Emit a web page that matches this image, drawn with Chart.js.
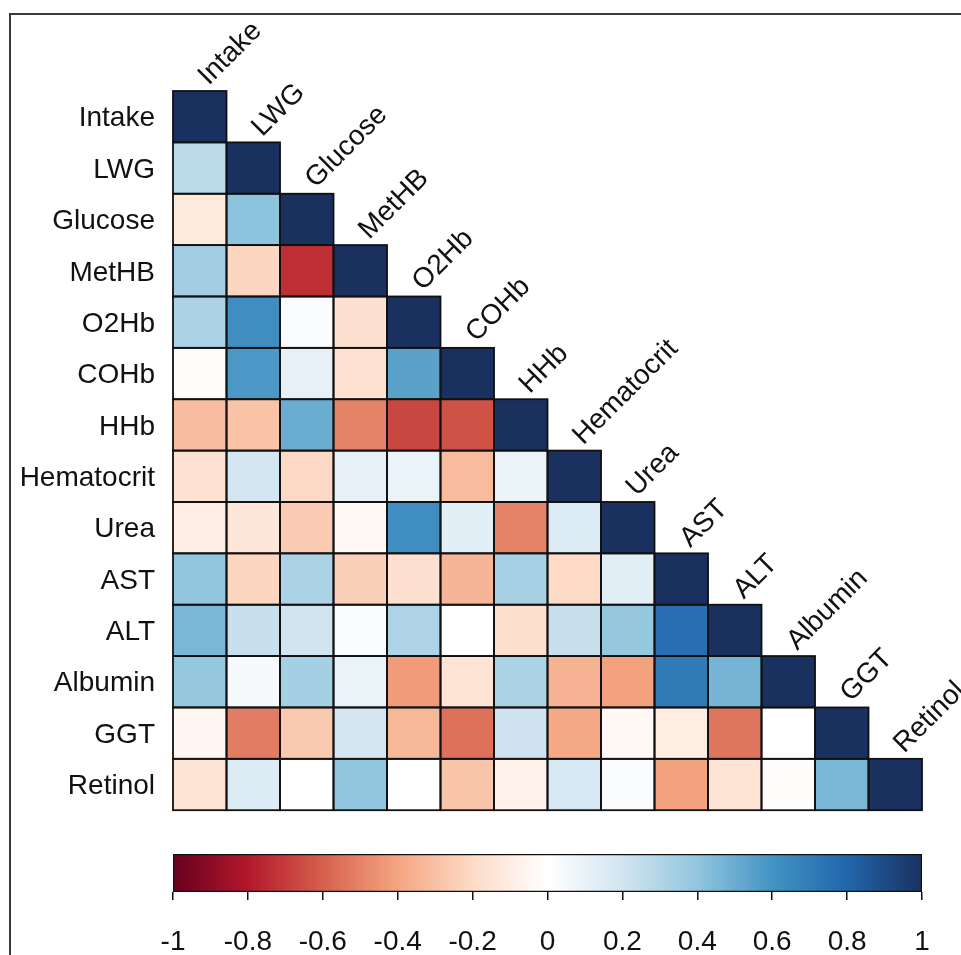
<!DOCTYPE html>
<html>
<head>
<meta charset="utf-8">
<script src="https://cdn.jsdelivr.net/npm/chart.js@4/dist/chart.umd.min.js"></script>
<style>
  html, body { margin: 0; padding: 0; background: #fff; }
  body { width: 961px; height: 955px; position: relative; overflow: hidden; }
  #frame { position: absolute; left: 9px; top: 13px; width: 1000px; height: 1000px;
           border-top: 2px solid #3a3a3a; border-left: 2px solid #3a3a3a; }
  #heat { position: absolute; left: 0; top: 0; }
  #bar  { position: absolute; left: 0; top: 845px; }
</style>
</head>
<body>
<div id="frame"></div>
<canvas id="heat" width="961" height="845"></canvas>
<canvas id="bar" width="961" height="110"></canvas>
<script>
// Variables of the correlation matrix (row and column order)
const variables = ['Intake', 'LWG', 'Glucose', 'MetHB', 'O2Hb', 'COHb', 'HHb',
                   'Hematocrit', 'Urea', 'AST', 'ALT', 'Albumin', 'GGT', 'Retinol'];

// Lower triangle of the correlation matrix, one row per variable
const rIntake     = [1];
const rLWG        = [0.27, 1];
const rGlucose    = [-0.12, 0.41, 1];
const rMetHB      = [0.35, -0.22, -0.74, 1];
const rO2Hb       = [0.32, 0.62, 0.02, -0.17, 1];
const rCOHb       = [-0.01, 0.58, 0.11, -0.16, 0.54, 1];
const rHHb        = [-0.31, -0.29, 0.50, -0.50, -0.67, -0.64, 1];
const rHematocrit = [-0.16, 0.19, -0.21, 0.11, 0.09, -0.32, 0.09, 1];
const rUrea       = [-0.09, -0.14, -0.26, -0.04, 0.62, 0.12, -0.50, 0.15, 1];
const rAST        = [0.40, -0.22, 0.32, -0.24, -0.17, -0.34, 0.33, -0.20, 0.13, 1];
const rALT        = [0.46, 0.23, 0.20, 0.02, 0.31, 0.00, -0.18, 0.23, 0.39, 0.76, 1];
const rAlbumin    = [0.39, 0.04, 0.34, 0.09, -0.43, -0.15, 0.32, -0.35, -0.41, 0.71, 0.47, 1];
const rGGT        = [-0.05, -0.52, -0.27, 0.19, -0.33, -0.55, 0.21, -0.39, -0.04, -0.10, -0.54, 0.00, 1];
const rRetinol    = [-0.15, 0.15, 0.00, 0.40, 0.00, -0.28, -0.07, 0.18, 0.02, -0.41, -0.15, -0.01, 0.46, 1];

const corrRows = [rIntake, rLWG, rGlucose, rMetHB, rO2Hb, rCOHb, rHHb,
                  rHematocrit, rUrea, rAST, rALT, rAlbumin, rGGT, rRetinol];

// Colour legend ticks
const legendTicks = [-1, -0.8, -0.6, -0.4, -0.2, 0, 0.2, 0.4, 0.6, 0.8, 1];

// Diverging red-white-blue palette, evenly spaced from -1 to 1
const paletteStops = ['#67001F', '#B2182B', '#D6604D', '#F4A582', '#FDDBC7', '#FFFFFF',
                      '#D1E5F0', '#92C5DE', '#4393C3', '#2166AC', '#1A3160'];

const FONT = '"Liberation Sans", Arial, Helvetica, sans-serif';
const FONT_SIZE = 28;
const INK = '#111';

function hexToRgb(h) {
  const n = parseInt(h.slice(1), 16);
  return [(n >> 16) & 255, (n >> 8) & 255, n & 255];
}
const paletteRgb = paletteStops.map(hexToRgb);

function colourFor(v) {
  const last = paletteRgb.length - 1;
  const p = (Math.max(-1, Math.min(1, v)) + 1) / 2 * last;
  const i = Math.min(Math.floor(p), last - 1);
  const t = p - i;
  const a = paletteRgb[i], b = paletteRgb[i + 1];
  const c = a.map((ch, k) => Math.round(ch + (b[k] - ch) * t));
  return `rgb(${c[0]},${c[1]},${c[2]})`;
}

// One floating-bar dataset per matrix row; each cell spans [row, row + 1]
const datasets = corrRows.map((row, i) => ({
  label: variables[i],
  data: variables.map((_, j) => (j <= i ? [i, i + 1] : null)),
  backgroundColor: variables.map((_, j) => (j <= i ? colourFor(row[j]) : 'rgba(0,0,0,0)')),
  borderWidth: 0,
  grouped: false,
  barPercentage: 1,
  categoryPercentage: 1
}));

// Black outline around every cell
const cellOutline = {
  id: 'cellOutline',
  afterDatasetsDraw(chart) {
    const ctx = chart.ctx;
    ctx.save();
    ctx.strokeStyle = INK;
    ctx.lineWidth = 1.8;
    chart.data.datasets.forEach((ds, i) => {
      chart.getDatasetMeta(i).data.forEach((el, j) => {
        if (ds.data[j] == null) return;
        const { x, y, base, width } = el.getProps(['x', 'y', 'base', 'width'], true);
        ctx.strokeRect(x - width / 2, Math.min(y, base), width, Math.abs(base - y));
      });
    });
    ctx.restore();
  }
};

// Column names written diagonally above each diagonal cell
const diagLabels = {
  id: 'diagLabels',
  afterDraw(chart) {
    const { ctx, scales: { x, y } } = chart;
    ctx.save();
    ctx.font = `${FONT_SIZE}px ${FONT}`;
    ctx.fillStyle = INK;
    ctx.textAlign = 'left';
    ctx.textBaseline = 'alphabetic';
    variables.forEach((name, j) => {
      const px = x.getPixelForValue(j);
      const py = y.getPixelForValue(j);
      ctx.save();
      ctx.translate(px + 9, py - 5);
      ctx.rotate(-Math.PI / 4);
      ctx.fillText(name, 0, 0);
      ctx.restore();
    });
    ctx.restore();
  }
};

new Chart(document.getElementById('heat'), {
  type: 'bar',
  data: { labels: variables, datasets },
  options: {
    responsive: false,
    animation: false,
    layout: { padding: { top: 91, right: 39, bottom: 6, left: 0 } },
    plugins: { legend: { display: false }, tooltip: { enabled: false } },
    scales: {
      x: { display: false, offset: true },
      y: {
        type: 'linear', min: 0, max: 14, reverse: true,
        afterFit(s) { s.width = 173; },
        afterBuildTicks(s) { s.ticks = variables.map((_, i) => ({ value: i + 0.5 })); },
        grid: { display: false, drawTicks: false, tickLength: 0 },
        border: { display: false },
        ticks: {
          autoSkip: false, padding: 18, labelOffset: 2, color: INK,
          font: { family: FONT, size: FONT_SIZE },
          callback: (v, i) => variables[i]
        }
      }
    }
  },
  plugins: [cellOutline, diagLabels]
});

// Colour legend: one floating bar from -1 to 1 filled with the palette
new Chart(document.getElementById('bar'), {
  type: 'bar',
  data: {
    labels: ['r'],
    datasets: [{
      data: [[legendTicks[0], legendTicks[legendTicks.length - 1]]],
      backgroundColor(c) {
        const chart = c.chart;
        if (!chart.chartArea) return paletteStops[5];
        const xs = chart.scales.x;
        const g = chart.ctx.createLinearGradient(xs.getPixelForValue(-1), 0, xs.getPixelForValue(1), 0);
        paletteStops.forEach((col, k) => g.addColorStop(k / (paletteStops.length - 1), col));
        return g;
      },
      borderColor: INK,
      borderWidth: 1.6,
      borderSkipped: false,
      barPercentage: 1,
      categoryPercentage: 1
    }]
  },
  options: {
    indexAxis: 'y',
    responsive: false,
    animation: false,
    layout: { padding: { top: 9, left: 173, right: 39, bottom: 0 } },
    plugins: { legend: { display: false }, tooltip: { enabled: false } },
    scales: {
      y: { display: false },
      x: {
        type: 'linear', min: -1, max: 1,
        afterBuildTicks(s) { s.ticks = legendTicks.map(v => ({ value: v })); },
        afterFit(s) { s.height = 63; },
        grid: { display: true, drawOnChartArea: false, drawTicks: true, tickLength: 8, color: INK, lineWidth: 1.5 },
        border: { display: false },
        ticks: {
          autoSkip: false, maxRotation: 0, padding: 25, color: INK,
          font: { family: FONT, size: FONT_SIZE },
          callback: v => String(Math.round(v * 10) / 10)
        }
      }
    }
  }
});
</script>
</body>
</html>
